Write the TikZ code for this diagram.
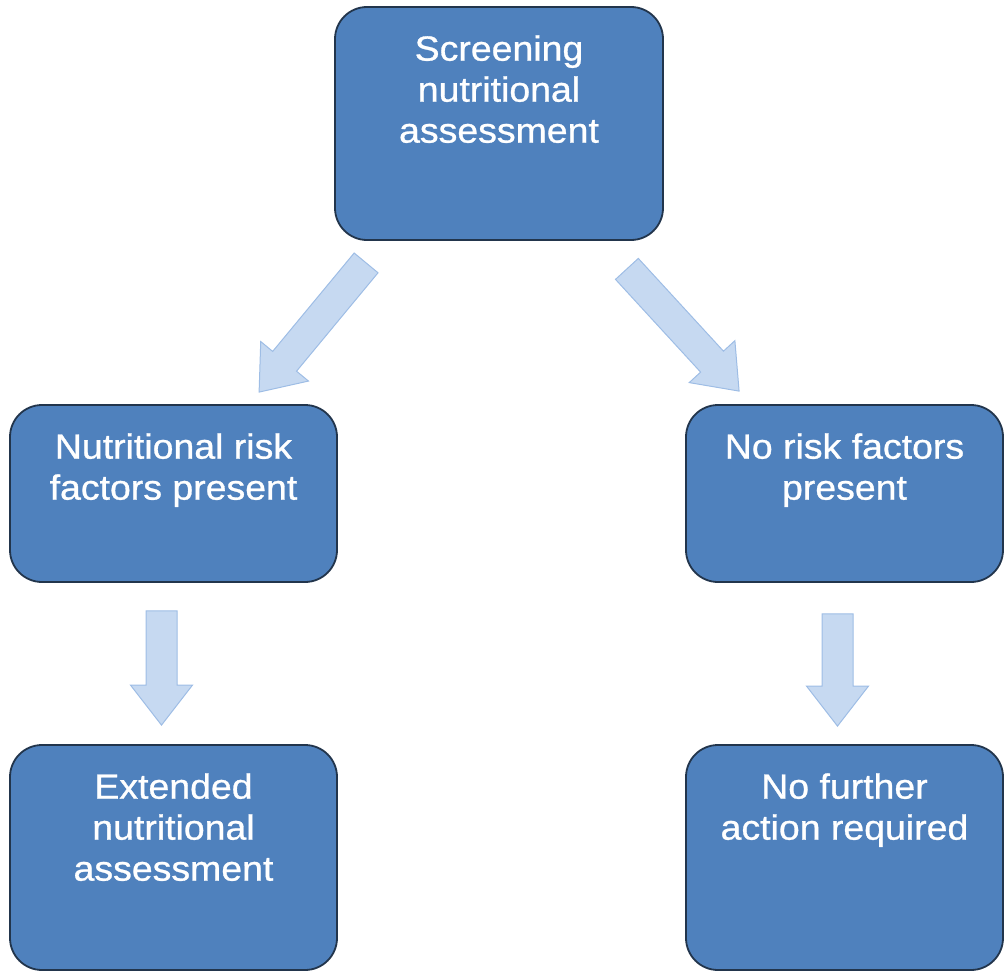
\documentclass[tikz,border=0pt]{standalone}
\usepackage{fontspec}
\setmainfont{Liberation Sans}[FakeStretch=1.07, FakeBold=0.8]
\usetikzlibrary{calc}
\definecolor{boxblue}{HTML}{4F81BD}
\definecolor{boxline}{HTML}{22354C}
\definecolor{arrowfill}{HTML}{C6D9F1}
\definecolor{arrowline}{HTML}{9EBDE5}
% block arrow from tail coordinate #1 to tip coordinate #2
\newcommand{\blockarrow}[2]{%
  \path ($(#2)!40pt!(#1)$) coordinate (hb);
  \draw[arrowstyle] ($(#1)!15.5pt!90:(#2)$) -- ($(hb)!15.5pt!90:(#2)$)
    -- ($(hb)!31pt!90:(#2)$) -- (#2) -- ($(hb)!31pt!-90:(#2)$)
    -- ($(hb)!15.5pt!-90:(#2)$) -- ($(#1)!15.5pt!-90:(#2)$) -- cycle;
}
\tikzset{%
  % Specifications for style of nodes:
            box/.style = {rectangle, rounded corners=32pt, draw=boxline,
                          line width=1.8pt, fill=boxblue},
        boxtext/.style = {anchor=north, inner sep=0pt, yshift=-29pt,
                          align=center, text=white,
                          font=\fontsize{35}{41}\selectfont},
     arrowstyle/.style = {fill=arrowfill, draw=arrowline, line width=1pt},
}

\begin{document}
\begin{tikzpicture}[x=1pt, y=1pt, node distance=370pt]
  \useasboundingbox (0,0) rectangle (1005,-974);
  % Specification of boxes (position, size)
  \node (screen)	[box, minimum width=328pt, minimum height=233pt] at (499,-123.5) {};
  \node (risk)		[box, minimum width=327pt, minimum height=177pt,
                   below of=screen, xshift=-325.5pt] {};
  \node (norisk)	[box, minimum width=317pt, minimum height=177pt,
                   below of=screen, xshift=345.5pt] {};
  \node (ext)		[box, minimum width=327pt, minimum height=225pt,
                   below of=risk, yshift=6pt] {};
  \node (nofurther)	[box, minimum width=317pt, minimum height=225pt,
                   below of=norisk, yshift=6pt] {};

  % Texts at the top of each box
  \node (screentxt)		[boxtext] at (screen.north)		{Screening\\nutritional\\assessment};
  \node (risktxt)		[boxtext] at (risk.north)		{Nutritional risk\\factors present};
  \node (norisktxt)		[boxtext] at (norisk.north)		{No risk factors\\present};
  \node (exttxt)		[boxtext] at (ext.north)		{Extended\\nutritional\\assessment};
  \node (nofurthertxt)	[boxtext] at (nofurther.north)	{No further\\action required};

  % Ends of the block arrows between the boxes
  \coordinate (riskin)		at ($(screen.south west)+(32,-22)$);
  \coordinate (riskend)		at ($(risk.north west)+(250,12)$);
  \coordinate (noriskin)	at ($(screen.south east)+(-37,-28)$);
  \coordinate (noriskend)	at ($(norisk.north west)+(54,13)$);
  \coordinate (extin)		at ($(risk.south)+(-12,-28)$);
  \coordinate (extend)		at ($(ext.north)+(-12,19)$);
  \coordinate (furtherin)	at ($(norisk.south)+(-7,-31)$);
  \coordinate (furtherend)	at ($(nofurther.north)+(-7,18)$);

  \blockarrow{riskin}{riskend}
  \blockarrow{noriskin}{noriskend}
  \blockarrow{extin}{extend}
  \blockarrow{furtherin}{furtherend}
\end{tikzpicture}
\end{document}
